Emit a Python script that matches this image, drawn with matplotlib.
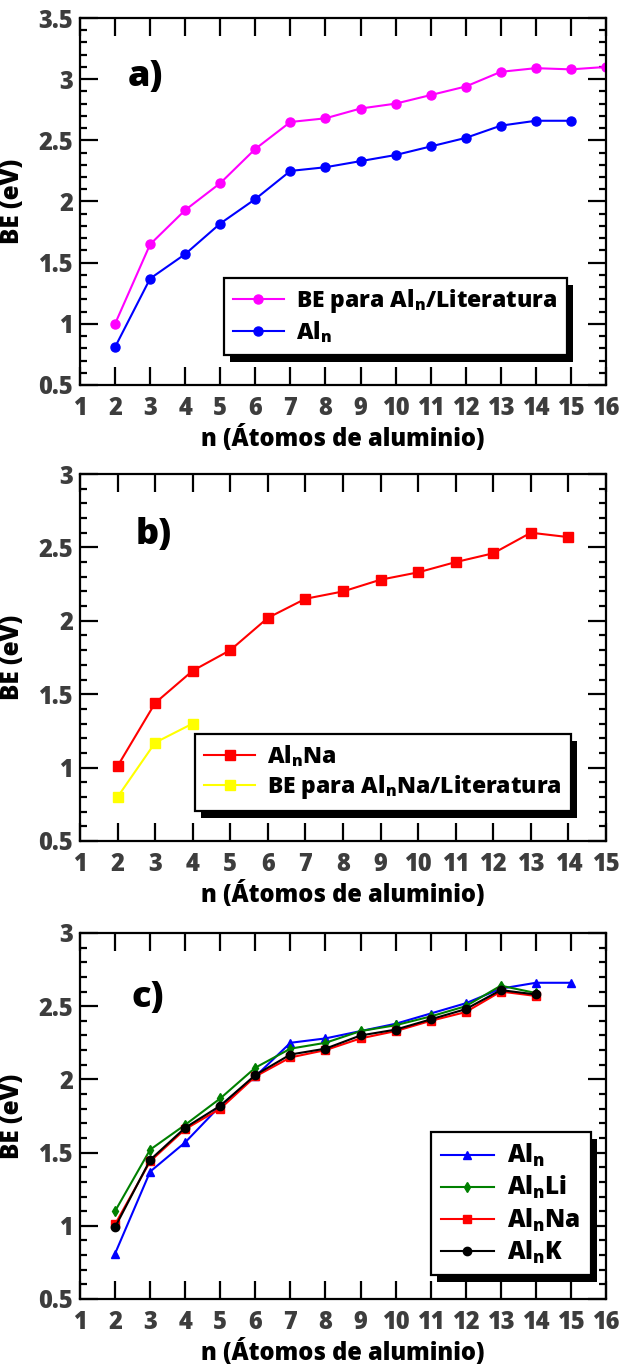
import numpy as np
import matplotlib
matplotlib.use("Agg")
import matplotlib.pyplot as plt
from matplotlib.patches import Rectangle
from matplotlib.ticker import MultipleLocator

plt.rcParams["font.family"] = ["Open Sans", "DejaVu Sans"]
plt.rcParams["font.weight"] = "heavy"
plt.rcParams["axes.labelweight"] = "heavy"
plt.rcParams["mathtext.fontset"] = "custom"
plt.rcParams["mathtext.rm"] = "Open Sans:heavy"
plt.rcParams["mathtext.it"] = "Open Sans:heavy"
plt.rcParams["mathtext.bf"] = "Open Sans:heavy"

# energía de enlace (eV) por número de átomos de aluminio
n_al = [2, 3, 4, 5, 6, 7, 8, 9, 10, 11, 12, 13, 14, 15]
be_al = [0.81, 1.37, 1.57, 1.82, 2.02, 2.25, 2.28, 2.33, 2.38, 2.45, 2.52, 2.62, 2.66, 2.66]

n_al_lit = [2, 3, 4, 5, 6, 7, 8, 9, 10, 11, 12, 13, 14, 15, 16]
be_al_lit = [1.00, 1.65, 1.93, 2.15, 2.43, 2.65, 2.68, 2.76, 2.80, 2.87, 2.94, 3.06, 3.09, 3.08, 3.10]

n_dop = [2, 3, 4, 5, 6, 7, 8, 9, 10, 11, 12, 13, 14]
be_na = [1.01, 1.44, 1.66, 1.80, 2.02, 2.15, 2.20, 2.28, 2.33, 2.40, 2.46, 2.60, 2.57]
be_li = [1.10, 1.52, 1.69, 1.87, 2.08, 2.21, 2.25, 2.33, 2.37, 2.43, 2.50, 2.64, 2.59]
be_k = [0.99, 1.45, 1.67, 1.82, 2.03, 2.17, 2.21, 2.30, 2.34, 2.41, 2.48, 2.61, 2.58]

n_na_lit = [2, 3, 4]
be_na_lit = [0.80, 1.17, 1.30]

TICK_GREY = "#3d3d3d"


def style_axes(ax, xmax, ymax):
    ax.set_xlim(1, xmax)
    ax.set_ylim(0.5, ymax)
    ax.xaxis.set_major_locator(MultipleLocator(1))
    ax.yaxis.set_major_locator(MultipleLocator(0.5))
    ax.yaxis.set_minor_locator(MultipleLocator(0.1))
    ax.yaxis.set_major_formatter(plt.FuncFormatter(lambda v, p: f"{v:g}"))
    ax.tick_params(which="both", direction="in", top=True, right=True,
                   width=1.6, labelsize=17, labelcolor=TICK_GREY)
    ax.tick_params(which="major", length=13)
    ax.tick_params(which="minor", length=5)
    ax.tick_params(axis="x", pad=8)
    ax.tick_params(axis="y", pad=5)
    for sp in ax.spines.values():
        sp.set_linewidth(1.6)
    ax.set_xlabel("n (Átomos de aluminio)", fontsize=17, labelpad=3)
    ax.set_ylabel("BE (eV)", fontsize=17.5)
    ax.yaxis.set_label_coords(-0.105, 0.5)


def boxed_legend(ax, x, y, fontsize):
    leg = ax.legend(loc="upper left", bbox_to_anchor=(x, y), borderaxespad=0,
                    fancybox=False, framealpha=1, edgecolor="black",
                    fontsize=fontsize, handlelength=2.2, handletextpad=0.55,
                    labelspacing=0.2, borderpad=0.4)
    leg.get_frame().set_linewidth(1.6)
    return leg


def add_shadow(fig, ax, leg, dx=6, dy=7):
    fig.canvas.draw()
    bb = leg.get_frame().get_window_extent()
    inv = ax.transAxes.inverted()
    (x0, y0), (x1, y1) = inv.transform([[bb.x0 + dx, bb.y0 - dy], [bb.x1 + dx, bb.y1 - dy]])
    ax.add_patch(Rectangle((x0, y0), x1 - x0, y1 - y0, transform=ax.transAxes,
                           facecolor="black", edgecolor="none", clip_on=False, zorder=4.9))


fig = plt.figure(figsize=(6.21, 13.65), dpi=100)
W, H = 621, 1365


def axes_at(top, bottom, left=80, right=606):
    return fig.add_axes([left / W, 1 - bottom / H, (right - left) / W, (bottom - top) / H])


# a) Al_n y literatura
ax_a = axes_at(18, 385)
ax_a.plot(n_al_lit, be_al_lit, color="#ff00ff", marker="o", ms=6.5, lw=1.5,
          label=r"BE para Al$_{\mathrm{n}}$/Literatura")
ax_a.plot(n_al, be_al, color="#0000ff", marker="o", ms=6.5, lw=1.5,
          label=r"Al$_{\mathrm{n}}$")
style_axes(ax_a, 16, 3.5)
ax_a.text(0.09, 0.84, "a)", transform=ax_a.transAxes, fontsize=26, va="center")
leg_a = boxed_legend(ax_a, 0.274, 0.292, 16.5)

# b) Al_nNa
ax_b = axes_at(474, 841)
ax_b.plot(n_dop, be_na, color="#ff0000", marker="s", ms=6.5, lw=1.5,
          label=r"Al$_{\mathrm{n}}$Na")
ax_b.plot(n_na_lit, be_na_lit, color="#ffff00", marker="s", ms=6.5, lw=1.5,
          label=r"BE para Al$_{\mathrm{n}}$Na/Literatura")
style_axes(ax_b, 15, 3.0)
ax_b.text(0.105, 0.835, "b)", transform=ax_b.transAxes, fontsize=26, va="center")
leg_b = boxed_legend(ax_b, 0.219, 0.292, 16.5)

# c) comparación de dopantes alcalinos
ax_c = axes_at(933, 1299)
ax_c.plot(n_al, be_al, color="#0000ff", marker="^", ms=6, lw=1.5,
          label=r"Al$_{\mathrm{n}}$")
ax_c.plot(n_dop, be_li, color="#008000", marker="d", ms=5.5, lw=1.5,
          label=r"Al$_{\mathrm{n}}$Li")
ax_c.plot(n_dop, be_na, color="#ff0000", marker="s", ms=6, lw=1.5,
          label=r"Al$_{\mathrm{n}}$Na")
ax_c.plot(n_dop, be_k, color="black", marker="o", ms=6, lw=1.5,
          label=r"Al$_{\mathrm{n}}$K")
style_axes(ax_c, 16, 3.0)
ax_c.text(0.097, 0.823, "c)", transform=ax_c.transAxes, fontsize=26, va="center")
leg_c = boxed_legend(ax_c, 0.667, 0.455, 17.5)

for ax, leg in [(ax_a, leg_a), (ax_b, leg_b), (ax_c, leg_c)]:
    add_shadow(fig, ax, leg)

fig.savefig("out.png", dpi=100, facecolor="white")
